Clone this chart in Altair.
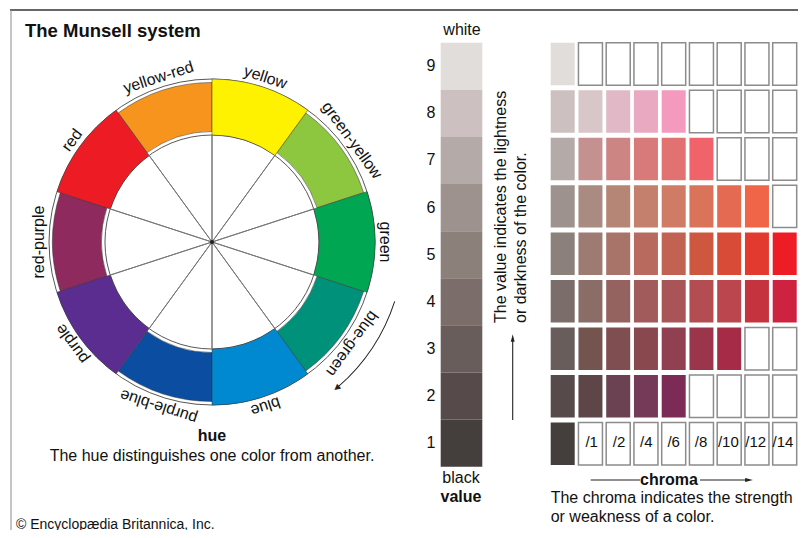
import altair as alt
import pandas as pd

# ---------------- data ----------------
TITLE = "The Munsell system"
COPYRIGHT = "© Encyclopædia Britannica, Inc."

hues = ["yellow", "green-yellow", "green", "blue-green", "blue",
        "purple-blue", "purple", "red-purple", "red", "yellow-red"]
hue_colors = ["#FFF200", "#8DC63F", "#00A651", "#00917A", "#0089D0",
              "#0B4DA0", "#5B2D90", "#8E2A5E", "#ED1C24", "#F7941D"]
hue_principal = [True, False, True, False, True, False, True, False, True, False]

value_levels = [9, 8, 7, 6, 5, 4, 3, 2, 1]
neutral_grays = ["#E1DDDA", "#CDC0C0", "#B4ABA8", "#9E928F", "#8C807B",
                 "#7B6E6A", "#685D5B", "#564B4A", "#443E3D"]

chroma_labels = ["/1", "/2", "/4", "/6", "/8", "/10", "/12", "/14"]
chroma_colors = {
    9: [],
    8: ["#D8C6C8", "#E0B8C6", "#E8A9C1", "#F49ABE"],
    7: ["#C49090", "#CD8584", "#D87A79", "#E27172", "#F0636A"],
    6: ["#A98B81", "#B58676", "#C47F6D", "#CF7B65", "#D9735A", "#E46B51", "#F06447"],
    5: ["#9D7A72", "#A87469", "#B86A5F", "#C26252", "#CE5740", "#D84C37", "#E33A2F", "#EE1C25"],
    4: ["#8A6D67", "#946360", "#A05B5A", "#A95457", "#B34D51", "#BC464E", "#C5333F", "#CE2340"],
    3: ["#74544F", "#7F4E51", "#89474E", "#904050", "#9A354C", "#A62B46"],
    2: ["#5E4548", "#6A4252", "#743A58", "#7C2B56"],
    1: [],
}

value_caption = ["The value indicates the lightness", "or darkness of the color."]
hue_caption = ["hue", "The hue distinguishes one color from another."]
chroma_caption = ["chroma", "The chroma indicates the strength", "or weakness of a color."]

# ---------------- layout constants ----------------
FONT = "Liberation Sans"
FS = 16
CX, CY = 204, 234
R_OUT, R_IN = 163, 107
R_OUT_S, R_IN_S = 159.5, 110.5

theta_scale = alt.Scale(domain=[0, 360], range=[0, 6.283185307179586])

hue_df = pd.DataFrame({"hue": hues, "color": hue_colors, "principal": hue_principal})
hue_df["start"] = hue_df.index * 36
hue_df["end"] = hue_df["start"] + 36
hue_df["mid"] = hue_df["start"] + 18


def arc_layer(df, r_out, r_in, **kw):
    return alt.Chart(df).mark_arc(**kw).encode(
        x=alt.value(CX), y=alt.value(CY),
        theta=alt.Theta("start:Q", scale=theta_scale, stack=False),
        theta2="end:Q",
        radius=alt.value(r_out), radius2=alt.value(r_in),
    )


ring = arc_layer(pd.DataFrame({"start": [0], "end": [360]}), R_OUT, R_IN,
                 fillOpacity=0, stroke="#444444", strokeWidth=0.9)
small = arc_layer(hue_df[~hue_df["principal"]], R_OUT_S, R_IN_S,
                  stroke="#333333", strokeWidth=0.5).encode(color=alt.Color("color:N", scale=None))
big = arc_layer(hue_df[hue_df["principal"]], R_OUT, R_IN,
                stroke="#333333", strokeWidth=0.5).encode(color=alt.Color("color:N", scale=None))
spoke_df = pd.DataFrame({"start": hue_df["start"], "end": hue_df["start"]})
spokes = arc_layer(spoke_df, R_IN, 0, fillOpacity=0, stroke="#777777", strokeWidth=1)
dot = arc_layer(pd.DataFrame({"start": [0], "end": [360]}), 2, 0, color="#222222")

hue_labels = alt.Chart(hue_df).mark_text(
    font=FONT, fontSize=FS, align="center", baseline="middle", color="#111111"
).encode(
    x=alt.value(CX), y=alt.value(CY),
    theta=alt.Theta("mid:Q", scale=theta_scale, stack=False),
    radius=alt.value(173),
    angle=alt.Angle("mid:Q", scale=None),
    text="hue:N",
)

arrow_arc = arc_layer(pd.DataFrame({"start": [108], "end": [139]}), 192.6, 191.6, color="#222222")
arrow_head = alt.Chart(pd.DataFrame({"deg": [139.5], "t": ["▶"]})).mark_text(
    font="DejaVu Sans", fontSize=8, align="center", baseline="middle", color="#222222"
).encode(
    x=alt.value(CX), y=alt.value(CY),
    theta=alt.Theta("deg:Q", scale=theta_scale, stack=False),
    radius=alt.value(192),
    angle=alt.Angle("deg:Q", scale=None),
    text="t:N",
)


def label(text, x, y, size=FS, bold=False, align="center", angle=0, color="#111111", baseline="middle"):
    kw = dict(font=FONT, fontSize=size, align=align, baseline=baseline, color=color)
    if bold:
        kw["fontWeight"] = "bold"
    if angle:
        kw["angle"] = angle
    return alt.Chart(pd.DataFrame({"t": [text]})).mark_text(**kw).encode(
        x=alt.value(x), y=alt.value(y), text="t:N")


def rule(x, y, x2=None, y2=None, color="#222222", width=1.0):
    enc = dict(x=alt.value(x), y=alt.value(y))
    if x2 is not None:
        enc["x2"] = alt.value(x2)
    if y2 is not None:
        enc["y2"] = alt.value(y2)
    return alt.Chart(pd.DataFrame({"a": [0]})).mark_rule(color=color, strokeWidth=width).encode(**enc)


def head(x, y, shape):
    return alt.Chart(pd.DataFrame({"a": [0]})).mark_point(
        shape=shape, filled=True, size=60, color="#222222", opacity=1
    ).encode(x=alt.value(x), y=alt.value(y))


# ---------------- value column ----------------
vscale = alt.Scale(domain=value_levels, range=[34.7, 458.7], paddingInner=0, paddingOuter=0)
val_df = pd.DataFrame({"v": value_levels, "color": neutral_grays})
value_col = alt.Chart(val_df).mark_rect().encode(
    y=alt.Y("v:O", scale=vscale, axis=None),
    x=alt.value(432.7), x2=alt.value(474.3),
    color=alt.Color("color:N", scale=None),
)
value_nums = alt.Chart(val_df).mark_text(font=FONT, fontSize=FS, color="#111111").encode(
    y=alt.Y("v:O", scale=vscale, axis=None), x=alt.value(423), text="v:N")

# ---------------- chroma grid ----------------
rows = []
for v, gray in zip(value_levels, neutral_grays):
    rows.append({"v": v, "col": 0, "color": gray, "filled": True})
    cols = chroma_colors[v]
    for j in range(len(chroma_labels)):
        if j < len(cols):
            rows.append({"v": v, "col": j + 1, "color": cols[j], "filled": True})
        else:
            rows.append({"v": v, "col": j + 1, "color": "#FFFFFF", "filled": False})
grid_df = pd.DataFrame(rows)

gx = alt.Scale(domain=list(range(9)), range=[542.7, 788.7], paddingInner=0.135, paddingOuter=0)
gy = alt.Scale(domain=value_levels, range=[34.7, 457], paddingInner=0.105, paddingOuter=0)

grid_filled = alt.Chart(grid_df[grid_df["filled"]]).mark_rect().encode(
    x=alt.X("col:O", scale=gx, axis=None),
    y=alt.Y("v:O", scale=gy, axis=None),
    color=alt.Color("color:N", scale=None),
)
grid_empty = alt.Chart(grid_df[~grid_df["filled"]]).mark_rect(
    fill="#FFFFFF", stroke="#8C8C8C", strokeWidth=1.5
).encode(
    x=alt.X("col:O", scale=gx, axis=None),
    y=alt.Y("v:O", scale=gy, axis=None),
)
clab_df = pd.DataFrame({"col": list(range(1, 9)), "v": [1] * 8, "t": chroma_labels})
grid_labels = alt.Chart(clab_df).mark_text(font=FONT, fontSize=15, color="#111111").encode(
    x=alt.X("col:O", scale=gx, axis=None),
    y=alt.Y("v:O", scale=gy, axis=None),
    text="t:N",
)

# ---------------- assemble ----------------
layers = [
    rule(2, 2, x2=790, color="#333333", width=1.6),
    rule(3, 2, y2=530, color="#8A8A8A", width=1),
    label(TITLE, 17, 23, size=18.5, bold=True, align="left"),
    ring, small, big, spokes, dot, hue_labels, arrow_arc, arrow_head,
    label(hue_caption[0], 204, 428, bold=True),
    label(hue_caption[1], 204, 448),
    label(COPYRIGHT, 8, 516.5, size=14, align="left"),
    value_col, value_nums,
    label("white", 454, 22),
    label("black", 453, 470),
    label("value", 453, 489, bold=True),
    label(value_caption[0], 493, 315, align="left", angle=270),
    label(value_caption[1], 513, 315, align="left", angle=270),
    rule(504.7, 412, y2=331, width=1.1),
    head(504.7, 330, "M-0.5,1L0,-1L0.5,1Z"),
    grid_filled, grid_empty, grid_labels,
    rule(582.7, 472, x2=632, width=1.1),
    rule(692, 472, x2=740, width=1.1),
    head(741, 472, "M-1,-0.5L1,0L-1,0.5Z"),
    label(chroma_caption[0], 661, 472, bold=True),
    label(chroma_caption[1], 542.7, 490, align="left"),
    label(chroma_caption[2], 542.7, 509, align="left"),
]

chart = alt.layer(*layers).resolve_scale(
    x="independent", y="independent", theta="independent"
).properties(
    width=790, height=522, padding=0, autosize=alt.AutoSizeParams(type="none"),
    background="#FFFFFF",
).configure_view(stroke=None)

chart.save("out.html", embed_options={"renderer": "svg", "actions": False})
